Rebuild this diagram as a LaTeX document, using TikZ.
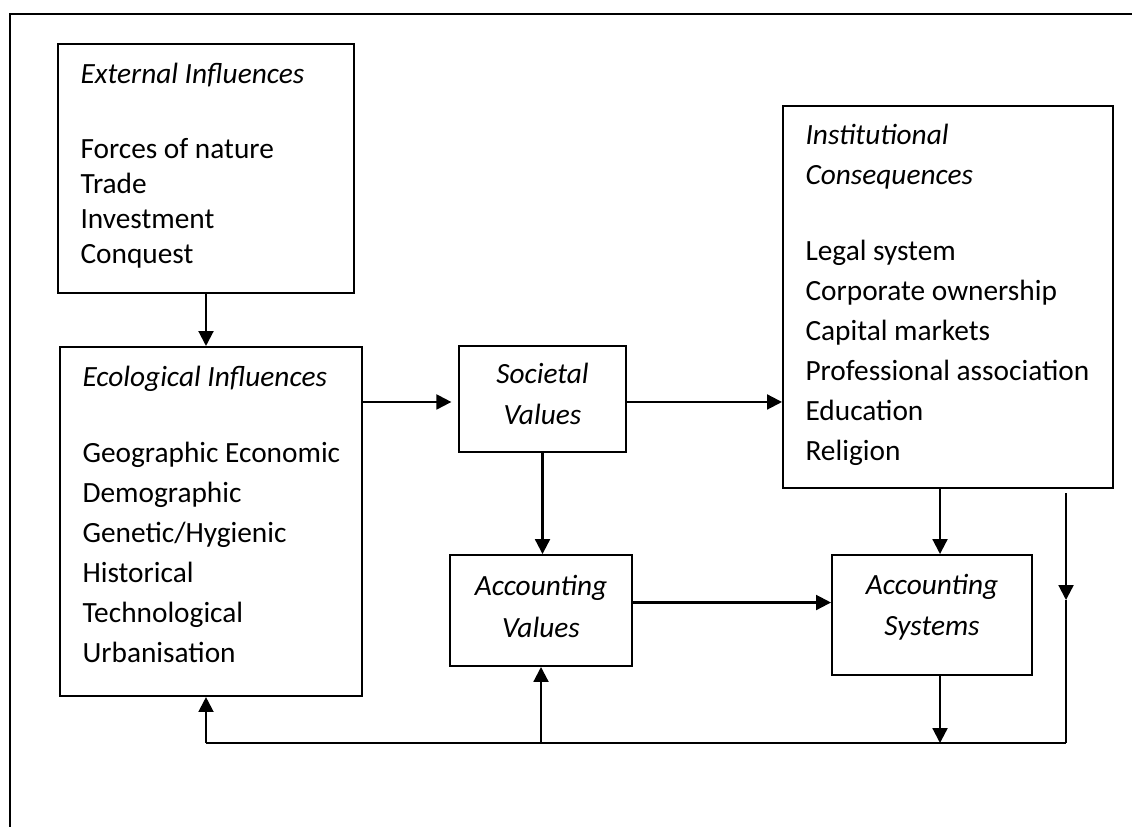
\documentclass[tikz,border=0pt]{standalone}
\usepackage{fontspec}
\setmainfont{Carlito}
\usetikzlibrary{arrows.meta}

\begin{document}
\begin{tikzpicture}[x=0.375pt, y=-0.375pt,
    box/.style={draw, line width=0.75pt, inner sep=0pt},
    lst/.style={anchor=north west, inner sep=0pt, align=left, font=\fontsize{11}{15}\selectfont},
    ctr/.style={align=center, font=\fontsize{11}{15.5}\selectfont\itshape},
    arr/.style={line width=0.8pt, -{Triangle[length=5.6pt, width=5.6pt]}},
    ln/.style={line width=0.8pt}]
    \useasboundingbox (0,0) rectangle (1132,827);
    % Frame
    \draw[ln] (1132,14) -- (10,14) -- (10,827);

    % External Influences
    \node[box, minimum width=111pt, minimum height=93.4pt] (ext) at (206,168.5) {};
    \node[lst, font=\fontsize{11}{13.1}\selectfont] (exttxt) at (80,63) {\textit{External Influences}\\[15pt] Forces of nature\\ Trade\\ Investment\\ Conquest};

    % Ecological Influences
    \node[box, minimum width=113.25pt, minimum height=130.9pt] (eco) at (211,521.5) {};
    \node[lst] (ecotxt) at (82,366) {\textit{Ecological Influences}\\[13.5pt] Geographic Economic\\ Demographic\\ Genetic/Hygienic\\ Historical\\ Technological\\ Urbanisation};

    % Societal Values
    \node[box, ctr, text depth=3.8pt, minimum width=62.6pt, minimum height=39.75pt] (soc) at (542.5,399) {Societal\\ Values};

    % Institutional Consequences
    \node[box, minimum width=123.75pt, minimum height=143.25pt] (inst) at (948,297) {};
    \node[lst] (insttxt) at (805,124) {\textit{Institutional}\\ \textit{Consequences}\\[13.5pt] Legal system\\ Corporate ownership\\ Capital markets\\ Professional association\\ Education\\ Religion};

    % Accounting Values and Systems
    \node[box, ctr, text depth=3pt, minimum width=68.25pt, minimum height=41.6pt] (accval) at (541,610.5) {Accounting\\ Values};
    \node[box, ctr, text depth=7.5pt, minimum width=75pt, minimum height=45pt] (accsys) at (932,615) {Accounting\\ Systems};

    % Forward arrows
    \coordinate (ecoR) at ([shift={(0,56)}]eco.north east);
    \coordinate (avR) at ([shift={(0,-8)}]accval.east);
    \coordinate (asT) at ([shift={(8,0)}]accsys.north);
    \draw[arr] (ext.south) -- (ext.south |- eco.north);
    \draw[arr, shorten >=2.5pt] (ecoR) -- (ecoR -| soc.west);
    \draw[arr] (ecoR -| soc.east) -- (ecoR -| inst.west);
    \draw[arr] (soc.south) -- (soc.south |- accval.north);
    \draw[arr] (avR) -- (avR -| accsys.west);
    \draw[arr] (asT |- inst.south) -- (asT);

    % Feedback loop
    \coordinate (fbL) at (206,743);
    \coordinate (fbR) at (1066,743);
    \coordinate (fbT) at (1066,493);
    \coordinate (fbM) at (1066,600);
    \draw[arr] (asT |- accsys.south) -- (asT |- fbR);
    \draw[ln] (fbL) -- (fbR);
    \draw[arr] (fbT) -- (fbM);
    \draw[ln] (fbM) -- (fbR);
    \draw[arr] (fbL) -- (fbL |- eco.south);
    \draw[arr] (accval.south |- fbL) -- (accval.south);
\end{tikzpicture}
\end{document}
